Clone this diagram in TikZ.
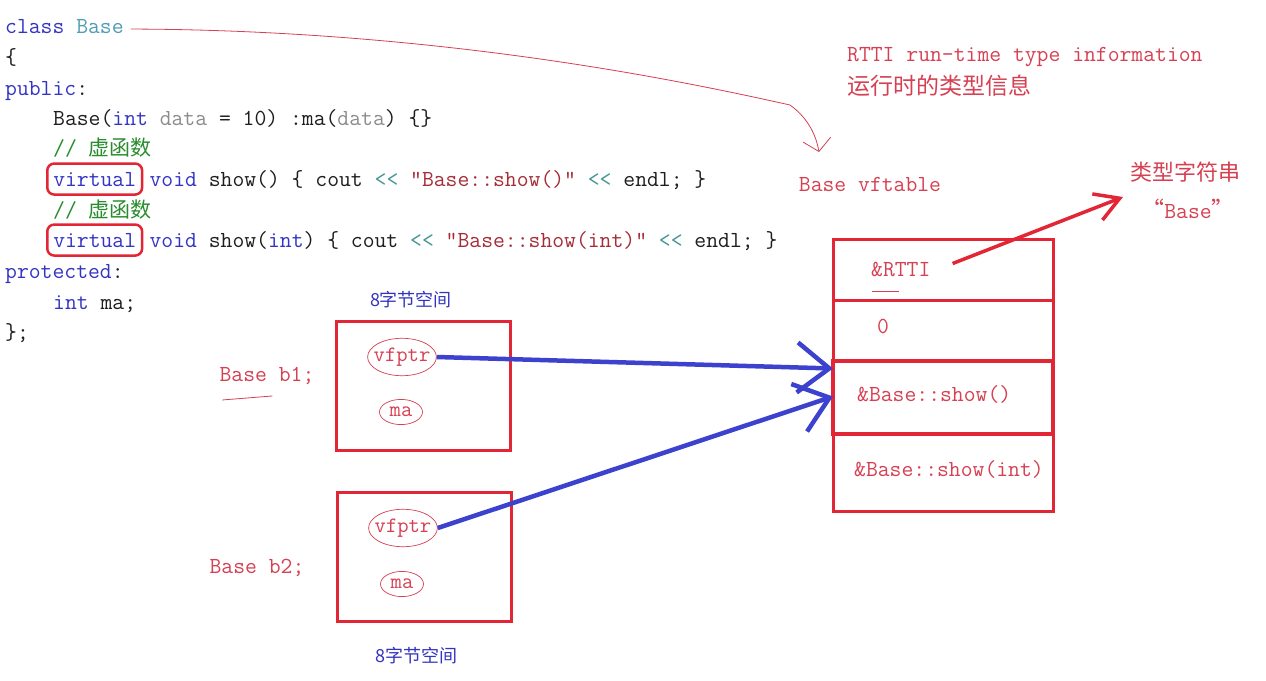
\documentclass[tikz,border=0pt]{standalone}
\usepackage{fontspec}
\newfontfamily\codefont{Latin Modern Mono}
\newfontfamily\cjk{Noto Sans CJK SC}
\usetikzlibrary{arrows.meta,shapes.geometric}

\definecolor{codeblue}{RGB}{52,52,196}
\definecolor{codecls}{RGB}{78,158,178}
\definecolor{codegreen}{RGB}{40,140,45}
\definecolor{codegray}{RGB}{140,140,140}
\definecolor{codestr}{RGB}{165,45,55}
\definecolor{codeop}{RGB}{70,150,150}
\definecolor{codetext}{RGB}{30,30,30}
\definecolor{annred}{RGB}{214,64,82}
\definecolor{boxred}{RGB}{226,38,54}
\definecolor{arrowblue}{RGB}{60,66,206}
\definecolor{sizeblue}{RGB}{52,52,190}

\newcommand{\codekw}[1]{\textcolor{codeblue}{#1}}
\newcommand{\codecls}[1]{\textcolor{codecls}{#1}}
\newcommand{\codecmt}[1]{\textcolor{codegreen}{#1}}
\newcommand{\codevar}[1]{\textcolor{codegray}{#1}}
\newcommand{\codestr}[1]{\textcolor{codestr}{#1}}
\newcommand{\codeop}[1]{\textcolor{codeop}{#1}}

\tikzset{
  code/.style = {font=\codefont\fontsize{23}{27}\selectfont, text=codetext,
    inner sep=0pt, anchor=base west},
  note/.style = {font=\codefont\fontsize{23}{27}\selectfont, text=annred, inner sep=0pt},
  vmark/.style = {code, draw=boxred, line width=2.5pt, rounded corners=7pt,
    inner xsep=6pt, minimum height=31pt},
  objbox/.style = {draw=boxred, line width=3pt, minimum width=174pt, minimum height=129pt},
  field/.style = {ellipse, draw=annred, line width=0.7pt, text=annred,
    font=\codefont\fontsize{22}{25}\selectfont, inner xsep=-4pt, inner ysep=4pt,
    minimum width=43pt, minimum height=25pt},
  vrow/.style = {draw=boxred, line width=3pt, minimum width=220pt, outer sep=0pt},
  vtext/.style = {note, anchor=west},
  sizelabel/.style = {font=\cjk\fontsize{18}{20}\selectfont, text=sizeblue, inner sep=0pt},
  ptr/.style = {draw=arrowblue, line width=4.5pt, -{Straight Barb[length=32pt,width=50pt]}},
  typeptr/.style = {draw=boxred, line width=3.5pt, -{Straight Barb[length=24pt,width=28pt]}},
  handline/.style = {draw=annred, line width=0.8pt}
}

\begin{document}
\begin{tikzpicture}[x=1pt, y=-1pt]
\useasboundingbox[fill=white] (0,0) rectangle (1266,680);

% class code
\node[code] (l1) at (5,33) {\codekw{class} \codecls{Base}};
\node[code] (l2) at (5,64) {\{};
\node[code] (l3) at (5,95) {\codekw{public}:};
\node[code] (l4) at (53,125) {Base(\codekw{int} \codevar{data} = 10) :ma(\codevar{data}) \{\}};
\node[code] (l5) at (53,155) {\codecmt{// {\cjk\fontsize{21}{24}\selectfont 虚函数}}};
\node[vmark] (v1) at (46,186) {\codekw{virtual}};
\node[code] (l6) at ([xshift=6pt]v1.base east) {\codekw{void} show() \{ cout \codeop{<{}<} \codestr{"Base::show()"} \codeop{<{}<} endl; \}};
\node[code] (l7) at (53,217) {\codecmt{// {\cjk\fontsize{21}{24}\selectfont 虚函数}}};
\node[vmark] (v2) at (46,247) {\codekw{virtual}};
\node[code] (l8) at ([xshift=6pt]v2.base east) {\codekw{void} show(\codekw{int}) \{ cout \codeop{<{}<} \codestr{"Base::show(int)"} \codeop{<{}<} endl; \}};
\node[code] (l9) at (5,278) {\codekw{protected}:};
\node[code] (l10) at (53,309) {\codekw{int} ma;};
\node[code] (l11) at (5,339) {\};};

% notes
\node[note, anchor=west] (trt1) at (847,57) {RTTI run-time type information};
\node[note, anchor=west, font=\cjk\fontsize{23}{26}\selectfont] (trt2) at (847,86) {运行时的类型信息};
\node[note] (ttitle) at (870,184) {Base vftable};
\node[note, font=\cjk\fontsize{22}{25}\selectfont] (tstr) at (1185,172) {类型字符串};
\node[note] (tname) at (1188,209) {{\cjk “}Base{\cjk ”}};

% objects
\node[note] (lb1) at (267,376) {Base b1;};
\node[note] (lb2) at (257,568) {Base b2;};
\node[objbox] (b1) at (423,385.5) {};
\node[objbox] (b2) at (424,556.5) {};
\node[field] (vf1) at (402,357) {vfptr};
\node[field] (ma1) at (401,412) {ma};
\node[field] (vf2) at (403,528) {vfptr};
\node[field] (ma2) at (402,584) {ma};
\node[sizelabel] (sz1) at (411,300) {8字节空间};
\node[sizelabel] (sz2) at (416,656) {8字节空间};

% vftable
\node[vrow, minimum height=61pt, anchor=north west] (r1) at (833,239) {};
\node[vrow, minimum height=61pt, anchor=north] (r2) at (r1.south) {};
\node[vrow, minimum height=73pt, anchor=north, line width=3.5pt] (r3) at (r2.south) {};
\node[vrow, minimum height=77pt, anchor=north] (r4) at (r3.south) {};
\node[vtext] (trtti) at ([xshift=38pt]r1.west) {\&RTTI};
\node[vtext] (toff) at ([xshift=44pt,yshift=4pt]r2.west) {0};
\node[vtext] (tshow) at ([xshift=24pt,yshift=3pt]r3.west) {\&Base::show()};
\node[vtext] (tshowi) at ([xshift=21pt,yshift=3pt]r4.west) {\&Base::show(int)};

\coordinate (vfhead) at (819,152);
\coordinate (strtip) at (1123,197);

% connectors
\draw[handline, -{Straight Barb[length=12pt,width=28pt]}] ([xshift=7pt,yshift=-3pt]l1.east)
  .. controls (450,30) and (700,85) .. (790,105)
  .. controls (808,118) and (816,135) .. (vfhead);
\draw[handline] ([xshift=3pt,yshift=-15pt]lb1.south west) -- ([xshift=53pt,yshift=-11pt]lb1.south west);
\draw[handline] ([xshift=1pt,yshift=-14pt]trtti.south west) -- ([xshift=28pt,yshift=-14pt]trtti.south west);
\draw[typeptr] ([xshift=22pt,yshift=6pt]trtti.east) -- (strtip);
\draw[ptr] (vf1.east) -- ([yshift=29pt]r3.west);
\draw[ptr] (vf2.east) -- ([yshift=1pt]r3.west);
\end{tikzpicture}
\end{document}
